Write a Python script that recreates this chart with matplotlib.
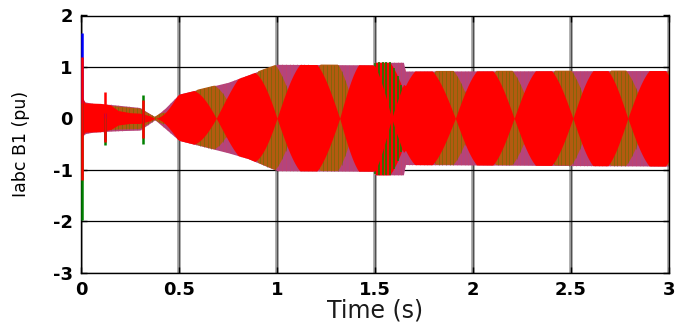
import numpy as np
import matplotlib
matplotlib.use("Agg")
import matplotlib.pyplot as plt

# outer envelope of the three phase currents (pu)
env_t = [0.0, 0.02, 0.06, 0.15, 0.20, 0.30, 0.377, 0.43, 0.50, 0.75, 0.85, 1.00,
         1.49, 1.50, 1.645, 1.655, 3.0]
env_top = [0.45, 0.32, 0.29, 0.27, 0.25, 0.21, 0.03, 0.20, 0.47, 0.70, 0.84, 1.05,
           1.04, 1.09, 1.09, 0.92, 0.93]
env_bot = [-0.38, -0.30, -0.27, -0.25, -0.24, -0.23, -0.03, -0.20, -0.43, -0.67, -0.78, -1.02,
           -1.03, -1.10, -1.10, -0.90, -0.93]

# phase a before the beat sets in
red0_t = [0.0, 0.02, 0.10, 0.15, 0.19, 0.25, 0.30, 0.35, 0.377]
red0_top = [0.45, 0.30, 0.29, 0.26, 0.15, 0.11, 0.10, 0.05, 0.0]
red0_bot = [-0.38, -0.27, -0.26, -0.22, -0.13, -0.10, -0.10, -0.05, 0.0]

# instants where the sampled phase a trace pinches to zero
red_nodes = [0.377, 0.69, 1.0, 1.32, 1.585, 1.91, 2.21, 2.51, 2.79, 3.09]

# switching transients: (low, high) reached by each phase
spike_t = [0.0, 0.117, 0.314]
spike_blue = [(-0.3, 1.66), (-0.42, 0.10), (-0.10, 0.10)]
spike_green = [(-1.97, 0.3), (-0.52, 0.0), (-0.50, 0.46)]
spike_red = [(-1.2, 1.2), (-0.46, 0.52), (-0.38, 0.36)]

xticks = [0, 0.5, 1, 1.5, 2, 2.5, 3]
xtick_labels = ["0", "0.5", "1", "1.5", "2", "2.5", "3"]
yticks = [-3, -2, -1, 0, 1, 2]
ytick_labels = ["-3", "-2", "-1", "0", "1", "2"]

RED = "#ff0000"
BROWN = "#b45a10"
PURPLE = "#b4447c"
DKGREEN = "#2f7800"
BLUE = "#0000ff"
GREEN = "#008000"


def bands(t):
    e_top = np.interp(t, env_t, env_top)
    e_bot = np.interp(t, env_t, env_bot)
    phi = np.interp(t, red_nodes, np.arange(len(red_nodes)))
    early = t < red_nodes[0]
    fr = np.minimum(1.0, 1.1 * np.abs(np.sin(np.pi * phi)))
    fg = np.minimum(1.0, 1.1 * np.abs(np.sin(np.pi * (phi - 1.0 / 3.0))))
    r_top = np.where(early, np.interp(t, red0_t, red0_top), e_top * fr)
    r_bot = np.where(early, np.interp(t, red0_t, red0_bot), e_bot * fr)
    g_top = np.where(early, 0.9 * e_top, e_top * fg)
    g_bot = np.where(early, 0.9 * e_bot, e_bot * fg)
    return e_top, e_bot, r_top, r_bot, g_top, g_bot


fig = plt.figure(figsize=(6.78, 3.27), dpi=100)
ax = fig.add_axes([81 / 678, 54.5 / 327, 588 / 678, 257 / 327])

t = np.linspace(0, 3, 6001)
e_top, e_bot, r_top, r_bot, g_top, g_bot = bands(t)
win = (t >= 1.49) & (t <= 1.655)

# grid first so the traces sit on top
for xv in xticks:
    ax.axvline(xv, color="#a0a0a0", lw=2.6, zorder=0.5)
    ax.axvline(xv, color="#505050", lw=0.8, zorder=0.6)
for yv in yticks:
    ax.axhline(yv, color="black", lw=0.9, zorder=0.6)

ax.fill_between(t, e_bot, e_top, color=PURPLE, lw=0, zorder=2)
ax.fill_between(t, g_bot, g_top, where=~win, color=BROWN, lw=0, zorder=3)
ax.fill_between(t, g_bot, g_top, where=win, color=RED, lw=0, zorder=3)

# individual samples show as thin strokes
ts = np.arange(0.0, 3.0, 0.019)
es_top, es_bot, _, _, gs_top, gs_bot = bands(ts)
sw = (ts >= 1.49) & (ts <= 1.655)
ax.vlines(ts, es_bot, es_top, colors="#d04060", lw=0.7, alpha=0.4, zorder=2.5)
ax.vlines(ts[~sw], gs_bot[~sw], gs_top[~sw], colors=DKGREEN, lw=0.7, alpha=0.35, zorder=4)
ax.vlines(ts[sw], gs_bot[sw], gs_top[sw], colors="#1e7a00", lw=1.2, zorder=4)

ax.fill_between(t, r_bot, r_top, color=RED, lw=0, zorder=5)

for st, b, g, r in zip(spike_t, spike_blue, spike_green, spike_red):
    x = st + 0.004
    ax.vlines(x, b[0], b[1], colors=BLUE, lw=1.8, zorder=6, clip_on=False)
    ax.vlines(x, g[0], g[1], colors=GREEN, lw=1.8, zorder=7, clip_on=False)
    ax.vlines(x, r[0], r[1], colors=RED, lw=1.8, zorder=8, clip_on=False)

ax.set_xlim(0, 3)
ax.set_ylim(-3, 2)
ax.set_xticks(xticks)
ax.set_xticklabels(xtick_labels)
ax.set_yticks(yticks)
ax.set_yticklabels(ytick_labels)
ax.tick_params(direction="in", length=4, width=1, top=True, right=True,
               labelsize=13, pad=6, colors="black")
for lab in ax.get_xticklabels() + ax.get_yticklabels():
    lab.set_fontweight("bold")
for sp in ax.spines.values():
    sp.set_linewidth(1.0)
    sp.set_zorder(5.5)

ax.set_xlabel("Time (s)", fontsize=17, color="#1a1a1a", labelpad=0)
ax.set_ylabel("Iabc B1 (pu)", fontsize=12.5, labelpad=16)

fig.savefig("out.png", dpi=100)
